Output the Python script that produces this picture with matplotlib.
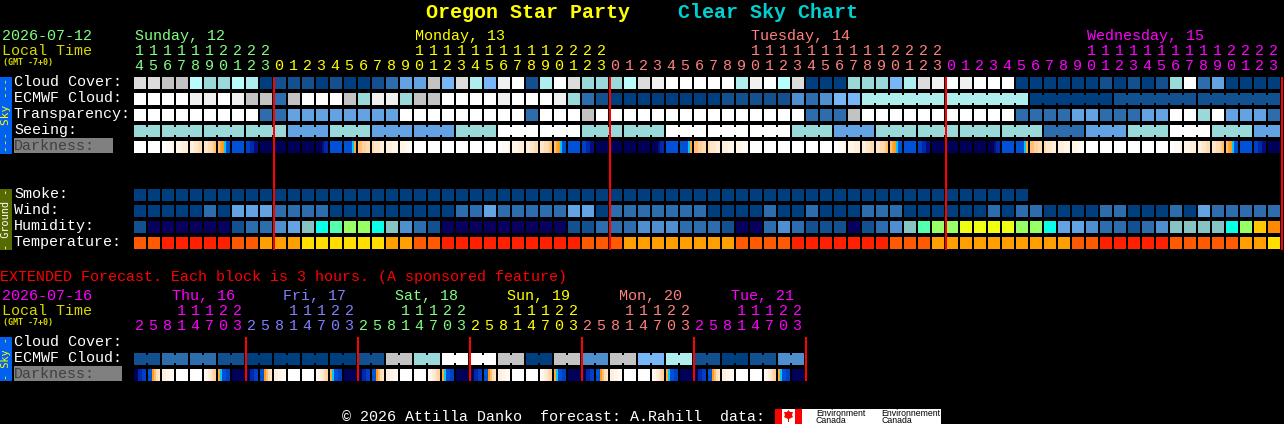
#!/usr/bin/python3
# -*- coding: utf-8 -*-
import matplotlib
matplotlib.use('Agg')
from matplotlib import pyplot as plt

###############################################    data    ###############################################

# hourly forecast, one letter per hour, first hour is 14:00 local
start_hour = 14
cloud_cover = "JJIIgHHgGA" "BBBABAABCE" "EIFJGFKLBG" "LJHHHgJKLL" "LLLGKLgJAA" "AHHHFGJKLK" "LLLAAAAAAB" "ABABHLCEAAAA"
ecmwf_cloud = "LLLLKKLKII" "CILLLIHKKH" "IILLLLKLLL" "KHCBAAAAAA" "AABBBBBDCD" "FFGGGGGGGG" "GGGGAAAAAA" "BBBBBBBBBBBB"
transparency = "LLLLLLLLLC" "CEEEEEEEEL" "LLLLLLLLCL" "LLILLLLLLL" "LLLLLLLLCC" "CILLLLLLLL" "LLLCCCCEEC" "CCEELLHLEEEC"
seeing = "HHHHHHHHHHH" "EEE" "HHH" "EEEEEE" "HHH" "LLLLLL" "HHHHHH" "LLLLLLLLL" "HHH" "EEE" "HHHHHHHHHHHH" "CCC" "EEE" "HHH" "LLL" "HHH" "EE"
smoke = "AAAAAAAAAA" "AAAAAAAAAA" "AAAAAAAAAA" "AAAAAAAAAA" "AAAAAAAAAA" "AAAAAAAAAA" "AAAA"
wind = "AAAAACAEEE" "CCCCAAAAAA" "AAACCECCCC" "CEEACCCCCC" "CAAAACAACA" "AACCCAAAAA" "ACACCAAAAC" "CAAACAECCCCC"
humidity = "BnnnnnnBCC" "DEtcmllctD" "CBnnnnnnnn" "nBBCCCDDDC" "CCBnnCDCBB" "BnBCDtmlly" "yyyllcEEDC" "CBCDttttclor"
temperature = "ssxxxxxssa" "aayyyyyyaa" "ssxxxxxxxx" "xxsssaaaaa" "aaassssxxx" "xxxxsssaaa" "aaaaaaassx" "xxxxsssssaay"

# extended forecast, one letter per 3 hour block
ext_ecmwf = "BBCCCCBBAAAAAAAABBIIHHLLLLIIAAIIDDIIFFGGBBAABBDD"
ext_hours = [2, 5, 8, 11, 14, 17, 20, 23]

# darkness levels sampled across each block
W = [0]
E1 = [0, 0, 1, 1, 1, 2]
E2 = [2, 2, 2, 3, 3, 3]
E3 = [3, 3, 4, 4, 5, 5]
E4 = [4, 4, 5, 5, 6, 7]
DUSK = [7, 8, 9, 10, 11, 11]
B = [11]
FALL = [12, 12, 13, 13, 14, 14]
N = [15]
RISE = [15, 15, 15, 14, 13, 13]
DAWN = [11, 11, 11, 11, 10, 8]
M4 = [7, 7, 6, 6, 5, 5]
M3 = [5, 4, 4, 4, 3, 3]
M2 = [3, 3, 3, 2, 2, 2]
M1 = [2, 2, 2, 1, 1, 1]
darkness = [W, W, E1, E2, E3, E4, DUSK, B, FALL, N, N, N, N, RISE, B, DAWN, M4, M3, M2, M1,
            W, W, W, W, W, W, E1, E2, E3, E4, DUSK, B, FALL, N, N, N, N, RISE, B, DAWN, M4, M3, M2, M1,
            W, W, W, W, W, W, E1, E2, E3, E4, DUSK, B, FALL, N, N, N, N, RISE, B, DAWN, M4, M3, M2, M1,
            W, W, W, W, W, W, E1, E2, E3, E4, DUSK, B, FALL, N]

X0 = [15, 15, 13, 13, 12, 12]
X1 = [11, 11, 9, 7, 5, 4]
X2 = [3, 3, 2, 2, 1, 1]
X5 = [1, 2, 3, 4, 5, 6]
X6 = [8, 10, 11, 11, 12, 12]
ext_darkness = [X0, X1, X2, W, W, X5, X6, N, X0, X1, X2, W, W, X5, X6, N, X0, X1, X2, W, W, X5, X6, N,
                X0, X1, X2, W, W, X5, X6, N, X0, X1, X2, W, W, X5, X6, N, X0, X1, X2, W, W, X5, X6, N]

# colours
sky_colors = {'A': '#003f7f', 'B': '#13508f', 'C': '#2d6dad', 'D': '#4f8fcf', 'E': '#63a3e3', 'F': '#77b7f7',
              'g': '#b8fcfc', 'G': '#afeeee', 'H': '#99d9d9', 'I': '#c3c3c3', 'J': '#dcdcdc', 'K': '#f0f0f0', 'L': '#ffffff'}
humidity_colors = {'n': '#08005f', 'B': '#13508f', 'C': '#2d6dad', 'D': '#4f8fcf', 'E': '#63a3e3', 't': '#87c3c3',
                   'c': '#08ffe8', 'm': '#55ffb0', 'l': '#99ff66', 'y': '#eeff14', 'o': '#ffc800', 'r': '#ff8a00'}
temperature_colors = {'x': '#ff2000', 's': '#ff5a00', 'a': '#ffa000', 'y': '#ffde00'}
darkness_colors = ['#ffffff', '#fffbf4', '#fff6e8', '#ffeeda', '#ffe6c8', '#ffdcb0', '#ffd098', '#ffbe70', '#ffa830',
                   '#ff9c10', '#00c8ff', '#0050d8', '#0040c8', '#0028a8', '#000e80', '#000058']

day_green = '#80ff80'
day_yellow = '#ffff00'
day_salmon = '#ff8080'
day_magenta = '#ff00ff'
day_blue = '#8080ff'
label_yellow = '#d8d800'
mono = 'Liberation Mono'

###############################################    helpers    ###############################################

fig = plt.figure(figsize=(12.84, 4.24), dpi=100, facecolor='black')
ax = fig.add_axes([0, 0, 1, 1])
ax.set_xlim(0, 1284)
ax.set_ylim(424, 0)
ax.axis('off')

BLOCK = 12
PITCH = 14
LEFT = 134


def box(x, top, w, h, color, zorder=2):
    # one plain rectangle on whole pixels
    ax.bar(x, h, width=w, bottom=top, align='edge', color=color, linewidth=0, snap=False, zorder=zorder)


def draw_row(values, colors, top, group=None, offset=0, first=0):
    # blocks of one forecast row, group joins equal neighbours into one piece
    xs = [LEFT + i * PITCH for i in range(len(values))]
    ax.bar(xs, BLOCK, width=BLOCK, bottom=top, align='edge', color=[colors[v] for v in values],
           linewidth=0, snap=False)
    if group is None:
        return
    for i in range(first, len(values) - 1):
        if values[i] == values[i + 1] and (i + offset) % group != group - 1:
            box(xs[i] + BLOCK, top + 2, 2, 8, colors[values[i]])


def draw_darkness(values, top):
    # each block is cut in as many slices as it has samples
    for i, samples in enumerate(values):
        w = BLOCK / len(samples)
        for k, level in enumerate(samples):
            box(LEFT + i * PITCH + k * w, top, w, BLOCK, darkness_colors[level])


def draw_hours(hours, colors, y_tens, y_units):
    for i, h in enumerate(hours):
        x = LEFT + i * PITCH + 5
        if h >= 10:
            ax.text(x, y_tens, str(h // 10), color=colors[i], family=mono, fontsize=10.8, ha='center', va='baseline')
        ax.text(x, y_units, str(h % 10), color=colors[i], family=mono, fontsize=10.8, ha='center', va='baseline')


def label(x, y, s, color='white', size=10.8, family=mono, **kw):
    ax.text(x, y, s, color=color, family=family, fontsize=size, ha='left', va='baseline', **kw)


###############################################    hourly    ###############################################

label(426, 18, 'Oregon Star Party', '#ffff00', size=14.4, weight='bold')
label(678, 18, 'Clear Sky Chart', '#00d0d0', size=14.4, weight='bold')

label(2, 40, '2026-07-12', day_green)
label(2, 55, 'Local Time', label_yellow)
label(3, 65, '(GMT -7+0)', label_yellow, size=6, family='DejaVu Sans Mono', weight='bold')

label(135, 40, 'Sunday, 12', day_green)
label(415, 40, 'Monday, 13', day_yellow)
label(751, 40, 'Tuesday, 14', day_salmon)
label(1087, 40, 'Wednesday, 15', day_magenta)

hours = [(start_hour + i) % 24 for i in range(len(cloud_cover))]
hour_colors = []
day = 0
for i, h in enumerate(hours):
    if h == 0 and i > 0:
        day += 1
    hour_colors.append([day_green, day_yellow, day_salmon, day_magenta][day])
draw_hours(hours, hour_colors, 55, 70)

for y, s in [(86, 'Cloud Cover:'), (102, 'ECMWF Cloud:'), (118, 'Transparency:'), (134, 'Seeing:'),
             (198, 'Smoke:'), (214, 'Wind:'), (230, 'Humidity:'), (246, 'Temperature:')]:
    label(14, y, s)
box(14, 138, 99, 15, '#808080')
label(14, 150, 'Darkness:', '#404040')

box(0, 77, 12, 77, '#0060f0')
ax.text(6, 115, '--- Sky ---', color='#ffff00', family='DejaVu Sans Mono', fontsize=8, rotation=90, ha='center', va='center')
box(0, 189, 12, 61, '#556b00')
ax.text(6, 219, '- Ground -', color='white', family='DejaVu Sans Mono', fontsize=7.4, rotation=90, ha='center', va='center')

draw_row(cloud_cover, sky_colors, 77)
draw_row(ecmwf_cloud, sky_colors, 93, group=6, offset=2, first=52)
draw_row(transparency, sky_colors, 109)
draw_row(seeing, sky_colors, 125, group=3, offset=1)
draw_darkness(darkness, 141)
draw_row(smoke, sky_colors, 189)
draw_row(wind, sky_colors, 205)
draw_row(humidity, humidity_colors, 221)
draw_row(temperature, temperature_colors, 237)

midnights = [i for i, h in enumerate(hours) if h == 0] + [len(hours)]
for i in midnights:
    box(LEFT + i * PITCH - 1, 77, 2, 173, '#ff0000', zorder=5)

###############################################    extended    ###############################################

label(0, 281, 'EXTENDED Forecast. Each block is 3 hours. (A sponsored feature)', '#ff0000')
label(2, 300, '2026-07-16', day_magenta)
label(2, 315, 'Local Time', label_yellow)
label(3, 325, '(GMT -7+0)', label_yellow, size=6, family='DejaVu Sans Mono', weight='bold')

ext_days = ['Thu, 16', 'Fri, 17', 'Sat, 18', 'Sun, 19', 'Mon, 20', 'Tue, 21']
ext_day_colors = [day_magenta, day_blue, day_green, day_yellow, day_salmon, day_magenta]
for d, s in enumerate(ext_days):
    label(172 + d * 8 * PITCH - (1 if d > 0 else 0), 300, s, ext_day_colors[d])
draw_hours(ext_hours * 6, [c for c in ext_day_colors for _ in ext_hours], 315, 330)

label(14, 346, 'Cloud Cover:')
label(14, 362, 'ECMWF Cloud:')
box(14, 366, 108, 15, '#808080')
label(14, 378, 'Darkness:', '#404040')

box(0, 337, 12, 44, '#0060f0')
ax.text(6, 359, '- Sky -', color='#ffff00', family='DejaVu Sans Mono', fontsize=7.4, rotation=90, ha='center', va='center')

draw_row(ext_ecmwf, sky_colors, 353, group=2)
draw_darkness(ext_darkness, 369)

for d in range(1, 7):
    box(LEFT + d * 8 * PITCH - 1, 337, 2, 44, '#ff0000', zorder=5)

###############################################    footer    ###############################################

label(342, 421, '\u00a9 2026 Attilla Danko  forecast: A.Rahill  data:')

box(775, 409, 166, 15, 'white')
box(775, 409, 7, 15, '#ff0000')
box(795, 409, 7, 15, '#ff0000')
ax.fill([788.5, 790, 793, 792, 793, 789, 789, 788, 788, 784, 785, 784, 787],
        [410, 412, 412, 415, 417, 419, 422, 422, 419, 417, 415, 412, 412], color='#ff0000', linewidth=0, zorder=3)
for x, s in [(816, 'Environment'), (881, 'Environnement')]:
    ax.text(x, 416, s, color='black', family='Liberation Sans', fontsize=6.3, ha='left', va='baseline', zorder=3)
    ax.text(x, 423, 'Canada', color='black', family='Liberation Sans', fontsize=6.3, ha='left', va='baseline', zorder=3)

fig.savefig('out.png', dpi=100, facecolor='black')
